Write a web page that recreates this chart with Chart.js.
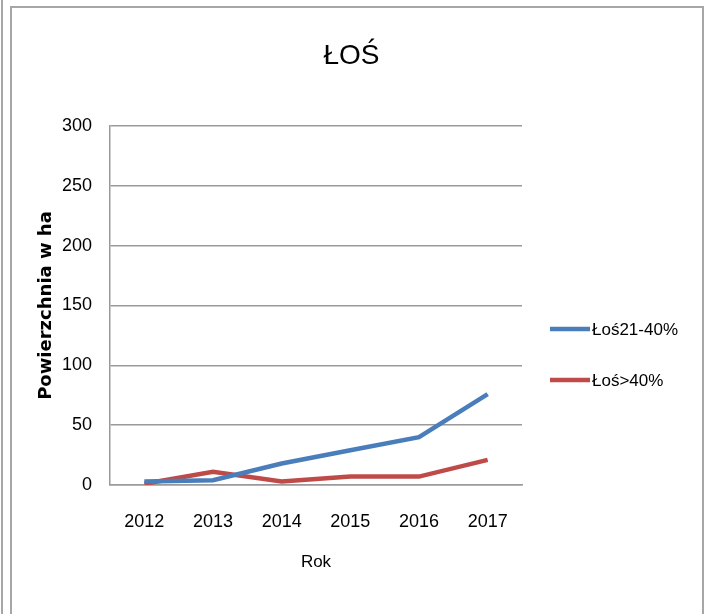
<!DOCTYPE html>
<html>
<head>
<meta charset="utf-8">
<script src="https://cdn.jsdelivr.net/npm/chart.js@4/dist/chart.umd.min.js"></script>
<style>
  html, body { margin: 0; padding: 0; background: #fff; }
  #wrap { position: relative; width: 709px; height: 614px; overflow: hidden; }
  #frameA { position: absolute; left: 1px; top: -5px; width: 0; height: 630px; border-left: 2px solid #a6a6a6; }
  #frameB { position: absolute; left: 10px; top: 6px; width: 690px; height: 630px; border: 2px solid #a6a6a6; border-bottom: none; }
  canvas { position: absolute; left: 0; top: 0; }
</style>
</head>
<body>
<div id="wrap">
  <div id="frameA"></div>
  <div id="frameB"></div>
  <canvas id="c" width="709" height="614"></canvas>
</div>
<script>
const chartTitle = "ŁOŚ";
const xAxisTitle = "Rok";
const yAxisTitle = "Powierzchnia w ha";
const years = ["2012", "2013", "2014", "2015", "2016", "2017"];
const seriesLabels = ["Łoś21-40%", "Łoś>40%"];
const los21to40 = [3, 4, 18, 29, 40, 76];
const losOver40 = [1, 11, 3, 7, 7, 21];
const yMin = 0, yMax = 300, yStep = 50;

const SANS = "'Liberation Sans', Arial, sans-serif";
const GRID = '#9a9a9a';

const legendPlugin = {
  id: 'sideLegend',
  afterDraw(chart) {
    const ctx = chart.ctx;
    ctx.save();
    chart.data.datasets.forEach((ds, i) => {
      const y = 329 + i * 51;
      ctx.strokeStyle = ds.borderColor;
      ctx.lineWidth = 4.5;
      ctx.lineCap = 'butt';
      ctx.beginPath();
      ctx.moveTo(550, y);
      ctx.lineTo(590, y);
      ctx.stroke();
      ctx.fillStyle = '#000';
      ctx.font = "17px " + SANS;
      ctx.textBaseline = 'middle';
      ctx.textAlign = 'left';
      ctx.fillText(ds.label, 592, y + 1);
    });
    ctx.restore();
  }
};

new Chart(document.getElementById('c'), {
  type: 'line',
  data: {
    labels: years,
    datasets: [
      { label: seriesLabels[0], data: los21to40, borderColor: '#4a7ebb', backgroundColor: '#4a7ebb',
        borderWidth: 4.5, pointRadius: 0, tension: 0, fill: false, yAxisID: 'y' },
      { label: seriesLabels[1], data: losOver40, borderColor: '#be4b48', backgroundColor: '#be4b48',
        borderWidth: 4.5, pointRadius: 0, tension: 0, fill: false, yAxisID: 'y' }
    ]
  },
  plugins: [legendPlugin],
  options: {
    responsive: false,
    animation: false,
    devicePixelRatio: 1,
    layout: { padding: { left: 32, right: 38, top: 20, bottom: 37 } },
    plugins: {
      legend: { display: false },
      tooltip: { enabled: false },
      title: {
        display: true,
        text: chartTitle,
        color: '#000',
        font: { family: SANS, size: 28, weight: 'normal' },
        padding: { top: 19, bottom: 53.4 }
      }
    },
    scales: {
      x: {
        offset: true,
        grid: { display: false, drawTicks: false },
        border: { display: true, color: GRID, width: 1.5 },
        ticks: { color: '#000', padding: 26, font: { family: SANS, size: 18 } },
        title: { display: true, text: xAxisTitle, color: '#000', font: { family: SANS, size: 17 }, padding: { top: 4, bottom: 4 } },
        afterFit(scale) { scale.height = 92; }
      },
      y: {
        min: yMin, max: yMax,
        grid: { color: GRID, lineWidth: 1.5, drawTicks: false },
        border: { display: true, color: GRID, width: 1.5 },
        ticks: { stepSize: yStep, color: '#000', padding: 18, font: { family: SANS, size: 18 } },
        title: { display: true, text: yAxisTitle, color: '#000', font: { family: "'DejaVu Sans', sans-serif", size: 18, weight: 'bold' }, padding: { top: 4, bottom: 4 } },
        afterFit(scale) { scale.width = 78; }
      },
      legendSpace: {
        type: 'linear',
        position: 'right',
        display: true,
        grid: { display: false, drawTicks: false },
        border: { display: false },
        ticks: { display: false },
        afterFit(scale) { scale.width = 149; }
      }
    }
  }
});
</script>
</body>
</html>
